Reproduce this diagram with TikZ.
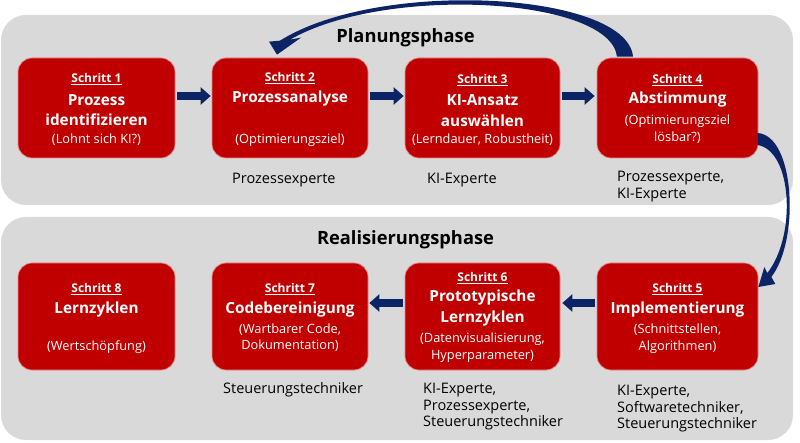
\documentclass[tikz,border=0pt]{standalone}
\usepackage{fontspec}
\setmainfont{Open Sans}
\usetikzlibrary{arrows.meta,calc}
\definecolor{panelgray}{HTML}{D9D9D9}
\definecolor{boxred}{HTML}{C00000}
\definecolor{navy}{HTML}{0C2466}
\begin{document}
\begin{tikzpicture}[x=1pt,y=-1pt,
  stepbox/.style={rectangle, rounded corners=14pt, fill=boxred, draw=white!55!boxred, line width=0.7pt, inner sep=0pt},
  steplabel/.style={text=white, font=\bfseries\fontsize{12}{14}\selectfont, inner sep=0pt},
  titletxt/.style={text=white, font=\bfseries\fontsize{15.3}{18}\selectfont, inner sep=0pt},
  subtxt/.style={text=white, font=\fontsize{12.8}{15}\selectfont, inner sep=0pt},
  roletxt/.style={font=\fontsize{14.5}{17}\selectfont, anchor=west, inner sep=0pt},
  phasetxt/.style={font=\bfseries\fontsize{18.3}{21}\selectfont, inner sep=0pt},
  blockarrow/.style={draw=navy, line width=8pt, -{Triangle[width=17pt,length=10pt]}},
  panel/.style={fill=panelgray, rounded corners=25pt},
]
\useasboundingbox (0,0) rectangle (800,443);
% panels
\path[panel] (1,15) rectangle (793,205);
\path[panel] (1,217) rectangle (793,440);
\node[phasetxt] (ph1) at (405.5,37.5) {Planungsphase};
\node[phasetxt] (ph2) at (405.5,240) {Realisierungsphase};

% row 1 boxes
\node[stepbox, minimum width=157pt, minimum height=100pt] (b1) at (96.5,108) {};
\node[stepbox, minimum width=156pt, minimum height=100pt] (b2) at (290,108) {};
\node[stepbox, minimum width=155pt, minimum height=100pt] (b3) at (482.5,108) {};
\node[stepbox, minimum width=161pt, minimum height=100pt] (b4) at (677.5,108) {};
% row 2 boxes
\node[stepbox, minimum width=157pt, minimum height=107pt] (b8) at (96.5,316.5) {};
\node[stepbox, minimum width=156pt, minimum height=107pt] (b7) at (290,316.5) {};
\node[stepbox, minimum width=155pt, minimum height=107pt] (b6) at (482.5,316.5) {};
\node[stepbox, minimum width=161pt, minimum height=107pt] (b5) at (677.5,316.5) {};

% texts box 1
\node[steplabel] (s1) at (96.5,79) {\underline{Schritt 1}};
\node[titletxt] (t1a) at (96.5,100) {Prozess};
\node[titletxt] (t1b) at (96.5,119.5) {identifizieren};
\node[subtxt] (u1) at (96.5,140) {(Lohnt sich KI?)};
% box 2
\node[steplabel] (s2) at (290,78) {\underline{Schritt 2}};
\node[titletxt] (t2a) at (290,99) {Prozessanalyse};
\node[subtxt] (u2) at (290,140) {(Optimierungsziel)};
% box 3
\node[steplabel] (s3) at (482.5,80) {\underline{Schritt 3}};
\node[titletxt] (t3a) at (482.5,100) {KI-Ansatz};
\node[titletxt] (t3b) at (482.5,121) {auswählen};
\node[subtxt] (u3) at (482.5,140) {(Lerndauer, Robustheit)};
% box 4
\node[steplabel] (s4) at (677.5,80) {\underline{Schritt 4}};
\node[titletxt] (t4a) at (677.5,100) {Abstimmung};
\node[subtxt] (u4a) at (677.5,121) {(Optimierungsziel};
\node[subtxt] (u4b) at (677.5,138) {lösbar?)};
% box 8
\node[steplabel] (s8) at (96.5,289) {\underline{Schritt 8}};
\node[titletxt] (t8a) at (96.5,310) {Lernzyklen};
\node[subtxt] (u8) at (96.5,347) {(Wertschöpfung)};
% box 7
\node[steplabel] (s7) at (290,289) {\underline{Schritt 7}};
\node[titletxt] (t7a) at (290,310) {Codebereinigung};
\node[subtxt] (u7a) at (290,330) {(Wartbarer Code,};
\node[subtxt] (u7b) at (290,346) {Dokumentation)};
% box 6
\node[steplabel] (s6) at (482.5,278) {\underline{Schritt 6}};
\node[titletxt] (t6a) at (482.5,298) {Prototypische};
\node[titletxt] (t6b) at (482.5,319) {Lernzyklen};
\node[subtxt] (u6a) at (482.5,339) {(Datenvisualisierung,};
\node[subtxt] (u6b) at (482.5,356) {Hyperparameter)};
% box 5
\node[steplabel] (s5) at (677.5,289) {\underline{Schritt 5}};
\node[titletxt] (t5a) at (677.5,310) {Implementierung};
\node[subtxt] (u5a) at (677.5,330) {(Schnittstellen,};
\node[subtxt] (u5b) at (677.5,347) {Algorithmen)};

% role labels
\node[roletxt] (r2) at (232,180) {Prozessexperte};
\node[roletxt] (r3) at (427,180) {KI-Experte};
\node[roletxt] (r4a) at (617,178) {Prozessexperte,};
\node[roletxt] (r4b) at (617,195) {KI-Experte};
\node[roletxt] (r7) at (223,390) {Steuerungstechniker};
\node[roletxt] (r6a) at (423,390) {KI-Experte,};
\node[roletxt] (r6b) at (423,407) {Prozessexperte,};
\node[roletxt] (r6c) at (423,423) {Steuerungstechniker};
\node[roletxt] (r5a) at (617,392) {KI-Experte,};
\node[roletxt] (r5b) at (617,408) {Softwaretechniker,};
\node[roletxt] (r5c) at (617,425) {Steuerungstechniker};

% straight arrows
\draw[blockarrow, shorten <=2pt, shorten >=1pt] ([yshift=12pt]b1.east) -- ([yshift=12pt]b2.west);
\draw[blockarrow, shorten <=2pt, shorten >=1pt] ([yshift=12pt]b2.east) -- ([yshift=12pt]b3.west);
\draw[blockarrow, shorten <=2pt, shorten >=2pt] ([yshift=12pt]b3.east) -- ([yshift=12pt]b4.west);
\draw[blockarrow, shorten <=2pt, shorten >=2pt] ([yshift=13.5pt]b5.west) -- ([yshift=13.5pt]b6.east);
\draw[blockarrow, shorten <=2pt, shorten >=1pt] ([yshift=13.5pt]b6.west) -- ([yshift=13.5pt]b7.east);

% curved arrow from step 4 back to step 2
\fill[navy] ($(b4.north)+(-44.5,-1)$) .. controls (627,-8) and (380,-22) .. ($(b2.north)+(-10,-17)$)
  -- ($(b2.north)+(-21,-16)$) -- ($(b2.north)+(-13,-3)$) -- ($(b2.north)+(11,-20)$)
  -- ($(b2.north)+(0,-18)$) .. controls (385,-15) and (610,-3) .. ($(b4.north)+(-60.5,-1)$) -- cycle;

% curved arrow from step 4 down to step 5
\fill[navy] ($(b4.east)+(-1,25)$) .. controls (795,135) and (800,240) .. ($(b5.east)+(13,-39.5)$)
  -- ($(b5.east)+(17,-32.5)$) -- ($(b5.east)+(0,-29.5)$) -- ($(b5.east)+(6,-49.5)$)
  -- ($(b5.east)+(9,-43.5)$) .. controls (797,235) and (792,150) .. ($(b4.east)+(-1,37)$) -- cycle;
\end{tikzpicture}
\end{document}
